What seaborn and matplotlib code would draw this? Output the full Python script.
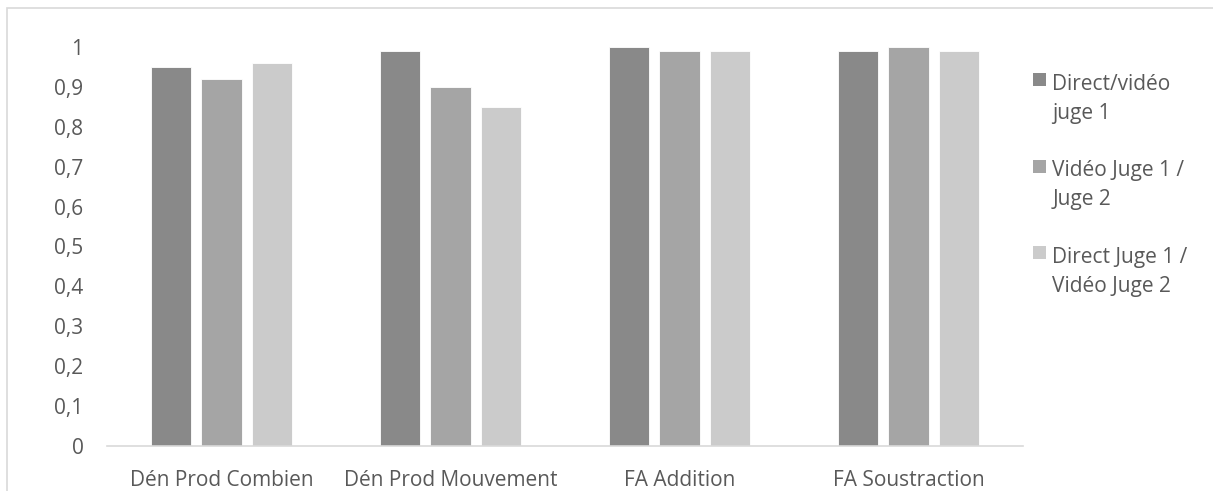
import matplotlib
matplotlib.use("Agg")
import matplotlib.pyplot as plt
import seaborn as sns
import pandas as pd
from matplotlib.ticker import FuncFormatter, MultipleLocator
from matplotlib.patches import Rectangle, Patch
from matplotlib.legend_handler import HandlerPatch

categories = ["Dén Prod Combien", "Dén Prod Mouvement", "FA Addition", "FA Soustraction"]
series_names = ["Direct/vidéo\njuge 1", "Vidéo Juge 1 /\nJuge 2", "Direct Juge 1 /\nVidéo Juge 2"]
direct_video_j1 = [0.95, 0.99, 1.00, 0.99]
video_j1_j2 = [0.92, 0.90, 0.99, 1.00]
direct_j1_video_j2 = [0.96, 0.85, 0.99, 0.99]
colors = ["#898989", "#a5a5a5", "#cbcbcb"]

rows = []
for name, vals in zip(series_names, [direct_video_j1, video_j1_j2, direct_j1_video_j2]):
    for c, v in zip(categories, vals):
        rows.append({"cat": c, "series": name, "value": v})
df = pd.DataFrame(rows)

sns.set_theme(style="white")
plt.rcParams['font.family'] = ['Open Sans', 'DejaVu Sans']
text_color = "#595959"
fs = 15

fig = plt.figure(figsize=(12.13, 4.91), dpi=100)
ax = fig.add_axes([107/1213, 1-446/491, (1023-107)/1213, (446-47)/491])

sns.barplot(data=df, x="cat", y="value", hue="series", palette=colors,
            order=categories, hue_order=series_names, width=0.66, gap=0.2,
            edgecolor="white", linewidth=0.6, ax=ax, saturation=1, legend=False)

ax.set_ylim(0, 1)
ax.yaxis.set_major_locator(MultipleLocator(0.1))
ax.yaxis.set_major_formatter(FuncFormatter(lambda v, p: ("%g" % round(v, 1)).replace(".", ",")))
ax.set_xlabel("")
ax.set_ylabel("")
for s in ["top", "right", "left"]:
    ax.spines[s].set_visible(False)
ax.spines["bottom"].set_color("#d9d9d9")
ax.spines["bottom"].set_linewidth(1.2)
ax.tick_params(axis="x", length=0, pad=17, labelsize=fs, colors=text_color)
ax.tick_params(axis="y", length=0, pad=17, labelsize=fs, colors=text_color)


class TopSquare(HandlerPatch):
    def create_artists(self, legend, orig_handle, xdescent, ydescent, width, height, fontsize, trans):
        side = 0.62 * fontsize
        r = Rectangle((-xdescent, -ydescent + height + 0.32 * fontsize), side, side,
                      facecolor=orig_handle.get_facecolor(), edgecolor="none", transform=trans)
        return [r]


handles = [Patch(facecolor=c) for c in colors]
leg = ax.legend(handles, series_names, loc="upper left",
                bbox_to_anchor=(1033/1213, 1-74/491), bbox_transform=fig.transFigure,
                frameon=False, fontsize=fs, handlelength=0.62, handleheight=0.6,
                handletextpad=0.3, labelspacing=1.75, labelcolor=text_color,
                borderpad=0, borderaxespad=0,
                handler_map={Patch: TopSquare()})
for t in leg.get_texts():
    t.set_linespacing(1.5)

fig.add_artist(Rectangle((7/1213, -0.5), 2.0, 1.5 - 8/491, transform=fig.transFigure,
                         fill=False, edgecolor="#d9d9d9", linewidth=1.2))

fig.savefig("out.png", dpi=100)
